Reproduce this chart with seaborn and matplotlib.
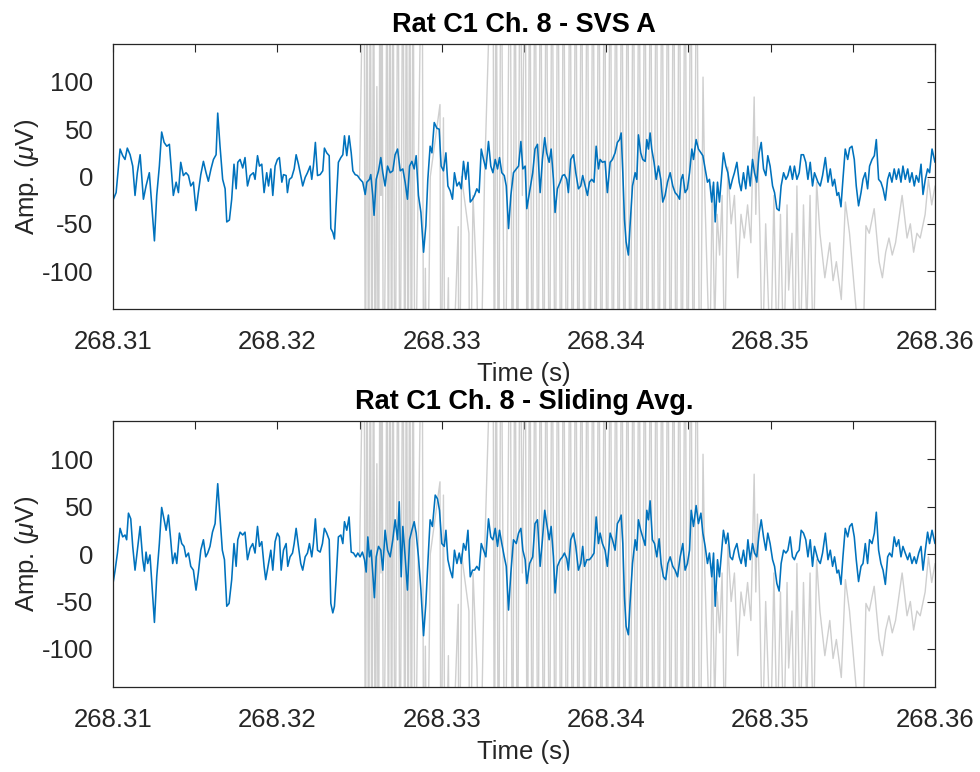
import numpy as np
import pandas as pd
import matplotlib
matplotlib.use("Agg")
import matplotlib.pyplot as plt
import seaborn as sns

T0 = 268.31  # s, left edge of the time window

# ---------------- Top panel (SVS A), blue trace: time in ms after T0, amplitude in uV
blue_top_ms = [0.0, 0.19, 0.43, 0.59, 0.73, 0.87, 1.04, 1.20, 1.34, 1.48, 1.65, 1.85, 2.01, 2.21, 2.36, 2.52, 2.66, 2.82, 2.96, 3.11,
               3.27, 3.43, 3.53, 3.67, 3.84, 3.98, 4.12, 4.28, 4.44, 4.59, 4.73, 4.89, 5.05, 5.19, 5.34, 5.50, 5.66, 5.80, 5.96, 6.11,
               6.27, 6.37, 6.51, 6.67, 6.82, 6.92, 7.08, 7.22, 7.36, 7.49, 7.59, 7.73, 7.89, 8.03, 8.18,
               8.34, 8.54, 8.64, 8.79, 8.91, 9.05, 9.19, 9.35, 9.46, 9.60, 9.72, 9.86, 10.00, 10.12, 10.27, 10.37, 10.53, 10.61, 10.73, 10.87,
               11.02, 11.14, 11.28, 11.42, 11.54, 11.69, 11.83, 11.99, 12.09, 12.19, 12.31, 12.44, 12.60, 12.76, 12.86, 13.00, 13.15, 13.25, 13.37, 13.47,
               13.57, 13.71, 13.86, 13.98, 14.08, 14.22, 14.36, 14.49, 14.59, 14.73, 14.87, 15.03, 15.19, 15.34, 15.44, 15.60, 15.68, 15.80, 15.88, 16.01,
               16.15, 16.29, 16.41, 16.55, 16.70,
               16.86, 17.02, 17.16, 17.31, 17.47, 17.63, 17.77, 17.91, 18.04, 18.18, 18.32, 18.44, 18.58, 18.73, 18.89, 19.03, 19.15, 19.29, 19.40, 19.54,
               19.70, 19.84, 19.96, 20.10, 20.25, 20.37, 20.51, 20.65, 20.77, 20.92, 21.06, 21.18, 21.32, 21.46, 21.59, 21.73, 21.87, 21.99, 22.13, 22.27,
               22.40, 22.54, 22.68, 22.84, 22.98, 23.11, 23.25, 23.39, 23.51, 23.65, 23.80, 23.92, 24.06, 24.20, 24.36, 24.53, 24.67, 24.81, 24.93, 25.07,
               25.17,
               25.53, 25.67, 25.82, 25.98, 26.12, 26.26, 26.38, 26.53, 26.65, 26.79, 26.89, 27.03, 27.20, 27.34, 27.46, 27.60, 27.70, 27.84, 28.01, 28.15,
               28.31, 28.45, 28.57, 28.72, 28.86, 28.98, 29.12, 29.26, 29.39, 29.53, 29.63, 29.77, 29.93, 30.07, 30.24, 30.38, 30.54, 30.68, 30.81, 30.91,
               31.01, 31.11, 31.21, 31.35, 31.45, 31.60, 31.76, 31.86, 31.96, 32.10, 32.22, 32.37, 32.47, 32.57, 32.67, 32.77, 32.91, 33.04, 33.18, 33.32,
               33.44, 33.58, 33.73,
               33.89, 34.05, 34.19, 34.34, 34.46, 34.56, 34.66, 34.80, 34.94, 35.07, 35.21, 35.31, 35.47, 35.61, 35.76, 35.88, 36.02, 36.16, 36.28, 36.42,
               36.53, 36.63, 36.77, 36.89, 37.03, 37.13, 37.28, 37.40, 37.54, 37.68, 37.80, 37.95, 38.09, 38.21, 38.35, 38.49, 38.62, 38.76, 38.90, 39.02,
               39.16, 39.30, 39.43, 39.57, 39.71, 39.83, 39.97, 40.12, 40.24, 40.38, 40.52, 40.64, 40.79, 40.93, 41.05, 41.19, 41.33, 41.45, 41.60, 41.74,
               41.86, 42.00, 42.14, 42.27, 42.41, 42.55, 42.67,
               42.88, 43.02, 43.16, 43.33, 43.49, 43.63, 43.77, 43.89, 44.04, 44.14, 44.28, 44.40, 44.54, 44.69, 44.81, 44.95, 45.09, 45.21, 45.35, 45.50,
               45.62, 45.76, 45.90, 46.02, 46.17, 46.31, 46.43, 46.57, 46.71, 46.84, 46.98, 47.12, 47.24, 47.38, 47.52, 47.65, 47.79, 47.93, 48.05, 48.19,
               48.34, 48.46, 48.60, 48.74, 48.86, 49.01, 49.15, 49.27, 49.41, 49.55, 49.67, 49.82, 50.0]
blue_top_uv = [-25, -17, 29, 22, 18, 30, 23, 11, -20, 4, 23, -24, -10, 4, -31, -68, -20, 11, 47, 36,
               32, 34, 11, -20, -6, -17, 15, 1, 4, 1, -10, -6, -36, -17, 2, 16, 4, -5, 8, 18,
               23, 67, 32, -3, -13, -48, -46, -24, 13, -13, 15, 18, 9, 20, -10,
               1, 4, -3, 22, 11, 13, -17, 4, -10, 8, -20, 11, 18, 20, -6, 2, 1, -17, -3, -1,
               8, 23, 13, 1, -10, -1, 4, 11, -3, 11, 36, 1, 2, 6, 30, 25, 22, -55, -59, -66,
               -31, 15, 20, 23, 43, 22, 43, 25, 6, 2, 1, -3, -6, -19, -6, -3, 2, -20, -41, -3,
               6, 20, 4, -10, 11,
               4, 6, 23, 29, 6, 8, -6, -24, 11, 16, 8, 22, -20, -38, -80, -52, -3, 32, 25, 57,
               51, 50, 11, 6, 25, -10, -15, -24, 4, -10, -6, -13, 16, -3, 15, -27, -24, -20, -13, -17,
               29, 18, 8, 37, 11, 4, 18, 8, 20, 4, 1, -10, -55, -20, 4, 8, 11, 37, 8, 11,
               -34,
               4, 29, 34, -17, 18, 41, 25, 15, 29, -3, -38, -13, -6, 1, 2, -3, -17, 18, 23, 4,
               -13, -10, 1, -10, -20, -6, -3, -6, 32, 8, 18, 15, 16, -17, 15, 18, 25, 36, 39, 46,
               4, -45, -69, -83, -52, -10, 4, -3, 44, 25, 18, 16, 39, 29, 46, 29, 15, -3, 11, -3,
               -27, -20, -6,
               4, -10, -17, -20, -24, -3, 2, -17, -13, 4, 29, 18, 39, 29, 25, 22, 8, -6, -3, -27,
               -6, -48, -6, -27, 4, 25, 11, 4, -13, -3, 4, 15, -6, -15, 4, -13, 11, -10, 18, 4,
               -6, 25, 36, 8, 1, 22, 11, -10, -17, -34, -36, -10, 4, -3, 1, 11, -3, 11, -3, 4,
               23, 23, 15, -3, 15, -10, 4,
               -6, -10, 1, 20, -6, 8, -10, -3, -20, -17, -32, -3, 29, 18, 30, 32, 18, -10, -31, -17,
               -3, 4, -13, 11, 18, 22, 39, -3, -6, -13, -25, -3, 4, -6, 8, -3, 8, -6, 11, -3,
               8, -6, 4, -10, 1, -6, 13, -19, -3, 8, 4, 29, 15]

# ---------------- Bottom panel (Sliding Avg.), blue trace
blue_bot_ms = [0.0, 0.12, 0.27, 0.43, 0.59, 0.73, 0.83, 0.94, 1.08, 1.20, 1.34, 1.48, 1.65, 1.81, 1.91, 2.01, 2.11, 2.25, 2.40, 2.52,
               2.66, 2.82, 2.96, 3.11, 3.23, 3.37, 3.51, 3.63, 3.77, 3.88, 4.04, 4.18, 4.32, 4.44, 4.59, 4.73, 4.89, 5.05, 5.19, 5.34,
               5.50, 5.64, 5.76, 5.90, 6.05, 6.21, 6.37, 6.51, 6.65, 6.78, 6.92, 7.06, 7.22, 7.36, 7.49, 7.59, 7.73, 7.89, 8.03, 8.18,
               8.34, 8.50, 8.64, 8.79, 8.91, 9.05, 9.19, 9.29, 9.46, 9.60, 9.72, 9.86, 10.00, 10.12, 10.23, 10.37, 10.53, 10.63, 10.77, 10.92,
               11.02, 11.14, 11.28, 11.42, 11.54, 11.69, 11.83, 11.95, 12.09, 12.19, 12.31, 12.44, 12.60, 12.74, 12.86, 13.00, 13.15, 13.25, 13.37, 13.47,
               13.57, 13.71, 13.86, 13.98, 14.08, 14.22, 14.36, 14.49, 14.63, 14.77, 14.89, 15.03, 15.17, 15.30, 15.40, 15.50, 15.60, 15.70, 15.80, 15.90,
               16.01, 16.15, 16.29, 16.41, 16.55, 16.70,
               16.86, 17.02, 17.16, 17.31, 17.41, 17.53, 17.63, 17.77, 17.91, 18.04, 18.18, 18.32, 18.44, 18.58, 18.73, 18.89, 19.03, 19.15, 19.29, 19.43,
               19.60, 19.74, 19.86, 20.00, 20.15, 20.25, 20.37, 20.51, 20.65, 20.77, 20.92, 21.06, 21.18, 21.32, 21.46, 21.59, 21.73, 21.87, 21.99, 22.13,
               22.27, 22.40, 22.54, 22.68, 22.84, 22.98, 23.11, 23.25, 23.39, 23.51, 23.65, 23.80, 23.92, 24.06, 24.20, 24.36, 24.53, 24.67, 24.81, 24.93,
               25.07, 25.17, 25.34,
               25.53, 25.67, 25.82, 25.98, 26.12, 26.26, 26.38, 26.53, 26.65, 26.79, 26.89, 27.03, 27.20, 27.34, 27.46, 27.60, 27.70, 27.84, 28.01, 28.15,
               28.31, 28.45, 28.57, 28.68, 28.82, 28.98, 29.12, 29.26, 29.39, 29.53, 29.63, 29.77, 29.93, 30.07, 30.24, 30.38, 30.54, 30.68, 30.81, 30.91,
               31.01, 31.11, 31.21, 31.35, 31.45, 31.60, 31.76, 31.86, 31.96, 32.10, 32.22, 32.37, 32.47, 32.57, 32.67, 32.81, 32.94, 33.08, 33.22, 33.34,
               33.48, 33.62, 33.75,
               33.89, 34.05, 34.19, 34.34, 34.50, 34.66, 34.80, 34.94, 35.07, 35.17, 35.31, 35.47, 35.61, 35.76, 35.88, 36.02, 36.16, 36.28, 36.42, 36.53,
               36.63, 36.77, 36.89, 37.03, 37.13, 37.28, 37.40, 37.54, 37.68, 37.80, 37.95, 38.09, 38.21, 38.35, 38.49, 38.62, 38.76, 38.90, 39.02, 39.16,
               39.30, 39.43, 39.57, 39.71, 39.83, 39.97, 40.12, 40.24, 40.38, 40.52, 40.64, 40.79, 40.93, 41.05, 41.19, 41.33, 41.45, 41.60, 41.74, 41.86,
               42.00, 42.14, 42.27, 42.41, 42.55, 42.67,
               42.88, 43.02, 43.16, 43.33, 43.49, 43.63, 43.77, 43.89, 44.04, 44.14, 44.28, 44.40, 44.54, 44.69, 44.81, 44.95, 45.09, 45.21, 45.35, 45.50,
               45.62, 45.76, 45.90, 46.02, 46.17, 46.31, 46.43, 46.57, 46.71, 46.84, 46.98, 47.12, 47.24, 47.38, 47.52, 47.65, 47.79, 47.93, 48.05, 48.19,
               48.34, 48.46, 48.60, 48.74, 48.86, 49.01, 49.15, 49.27, 49.41, 49.55, 49.67, 49.82, 50.0]
blue_bot_uv = [-31, -18, 1, 27, 18, 20, 15, 43, 37, 8, -17, 4, 29, -6, -18, 2, -10, -1, -41, -72,
               -24, 11, 49, 36, 25, 41, 15, -10, 1, -10, 22, 11, 8, -3, 1, -13, -17, -38, -20, 4,
               15, -3, 1, 8, 23, 32, 74, 39, 4, -6, -55, -52, -27, 11, -13, 15, 23, 20, 23, -6,
               6, 11, 1, 29, 8, 13, -13, -27, -10, 4, -17, 13, 22, 18, -17, 4, 11, -13, -3, 1,
               11, 27, 8, -10, -17, -3, 1, 11, -3, 11, 37, 4, 2, 11, 27, 22, 15, -52, -62, -55,
               -27, 18, 20, 11, 34, 25, 39, 2, 1, -3, 1, -3, 2, -6, -19, 18, -3, 4, -20, -46,
               -3, 8, 4, -17, 25, 4,
               -3, 15, 36, 15, 55, -24, 29, -3, -38, 15, 25, 34, 22, -3, -38, -86, -52, -10, 36, 29,
               62, 58, 46, 11, 8, 25, -6, -17, -25, 4, -10, 1, -10, 11, 4, 25, -24, -17, -17, -13,
               -17, 11, 4, -3, 37, 18, 15, 27, 8, 25, 11, -3, -13, -59, -20, 15, 11, 22, 27, 4,
               -6, -31, -10,
               -3, 32, 36, -13, 15, 46, 32, 15, 29, -3, -41, -13, -6, -3, 1, -5, -17, 15, 22, 8,
               -17, -10, 8, -13, -6, -6, -3, 1, 39, 11, 22, 11, 4, -13, 22, 15, 4, 32, 36, 41,
               11, -45, -76, -85, -52, -10, 15, 4, 36, 25, 18, 9, 46, 36, 56, 15, 11, -3, 16, -10,
               -24, -27, -10,
               -3, -13, -17, -24, -3, 11, -17, -10, 4, 46, 29, 51, 32, 43, 22, 8, -10, 1, -24, 1,
               -55, -6, -24, 4, 25, 11, 22, -3, -6, 4, 11, -3, -10, 4, -13, 15, -6, 11, 1, -3,
               22, 36, 18, 4, 22, 11, -6, -13, -31, -39, -10, 4, 1, 4, 18, -3, -6, 1, 4, 25,
               22, 15, -3, 15, -13, 8,
               -6, -10, 1, 22, -6, 4, -13, -3, -20, -17, -32, -3, 27, 18, 29, 32, 18, -6, -29, -13,
               -10, 11, -10, 15, 11, 22, 44, 4, -10, -17, -32, -3, 1, -3, 18, 8, 15, -3, 8, 1,
               -6, 1, -10, -3, -10, 1, 8, -17, 4, 23, 11, 25, 11]

# ---------------- Gray (raw, artifact-laden) trace, shared by both panels
gray_ms = [15.0, 15.27, 15.35, 15.45, 15.55, 15.65, 15.75, 15.85, 15.95, 16.05, 16.15, 16.24, 16.30, 16.36, 16.45, 16.60,
           16.67, 16.75, 16.85, 16.95, 17.03, 17.15, 17.34, 17.45, 17.64, 17.75, 17.85, 17.95, 18.05, 18.15, 18.25, 18.37,
           18.55, 18.80, 18.90, 19.0, 19.10, 19.3, 19.89, 19.95, 20.1, 20.2, 20.4, 20.5, 21.0, 21.05, 21.2, 21.65, 21.7,
           21.9, 22.14, 22.3, 22.6, 23.11, 23.2, 23.3, 23.45, 23.6, 23.84, 24.0, 24.15, 24.3, 24.45, 24.6, 24.76, 24.9,
           25.06, 25.2, 25.35, 25.5, 25.67,
           25.85, 26.0, 26.2, 26.35, 26.55, 26.7, 26.9, 27.05, 27.25, 27.4, 27.6, 27.8, 27.95, 28.15, 28.3, 28.5, 28.65,
           28.85, 29.0, 29.2, 29.35, 29.55, 29.7, 29.9, 30.05, 30.25, 30.4, 30.6, 30.75, 30.95, 31.1, 31.3, 31.45, 31.65,
           31.8, 32.0, 32.15, 32.35, 32.5, 32.7, 32.85, 33.05, 33.2, 33.4, 33.55, 33.75, 33.9, 34.1, 34.25, 34.45, 34.6,
           34.8, 34.95, 35.15, 35.3, 35.5, 35.7,
           35.89, 36.0, 36.3, 36.45, 36.6, 36.75, 36.9, 37.05, 37.2, 37.4, 37.6, 37.8, 38.0, 38.2, 38.4, 38.6, 38.8, 39.0,
           39.1, 39.2, 39.35, 39.5, 39.7, 40.0, 40.2, 40.4, 40.6, 40.8, 41.0, 41.1, 41.3, 41.45, 41.6, 41.8, 42.0, 42.2,
           42.4, 42.6, 42.8, 43.0, 43.3, 43.6, 43.8, 44.0, 44.3, 44.55, 44.8, 45.0, 45.3, 45.6, 45.8, 46.0, 46.3, 46.6,
           46.8, 47.0, 47.2, 47.4, 47.6, 48.0, 48.3, 48.5, 48.7, 48.9, 49.1, 49.4, 49.6, 49.8, 50.0]
gray_uv = [0, 300, -300, 300, -300, 300, -300, 300, -300, 95, -300, 300, -20, 300, -300, 0,
           300, -300, 300, -300, 300, -300, 300, -300, 300, -300, 300, -300, 300, -300, 300, -300,
           -20, 300, -300, -97, -300, 0, 76, -300, 62, -300, -107, -300, -53, -300, 0, -60, -300,
           -20, -121, -300, 0, 300, -300, 300, -300, 300, -300, 0, 300, -300, 300, -300, 300, -20,
           300, -300, 300, -300, 300,
           -300, 300, -300, 300, -300, 300, -300, 300, -300, 300, -300, 300, -300, 300, -300, 300, -300,
           300, -300, 300, -300, 300, -300, 300, -300, 300, -300, 300, -300, 300, -300, 300, -300, 300,
           -300, 300, -300, 300, -300, 300, -300, 300, -300, 300, -300, 300, -300, 300, -300, 300, -300,
           300, -300, 300, -300, 300, -300,
           105, -20, -200, -10, -160, -40, -83, -20, -200, 10, -50, -20, -107, -40, -65, -30, -70, 84,
           -40, 42, -60, -200, -50, -200, -20, -200, -40, -200, -30, -120, -60, -200, -10, -200, -30, -160,
           -20, -200, -6, -60, -107, -70, -110, -90, -130, -27, -60, -100, -160, -200, -52, -60, -34, -90,
           -107, -80, -65, -83, -70, -20, -65, -50, -80, -60, -65, -40, -3, -30, -10]

xtick_vals = [268.31, 268.32, 268.33, 268.34, 268.35, 268.36]
xtick_labels = ["268.31", "268.32", "268.33", "268.34", "268.35", "268.36"]
xminor_vals = [268.315, 268.325, 268.335, 268.345, 268.355]
ytick_vals = [-100, -50, 0, 50, 100]
titles = ["Rat C1 Ch. 8 - SVS A", "Rat C1 Ch. 8 - Sliding Avg."]

sns.set_theme(style="white")
plt.rcParams['font.family'] = ['Liberation Sans', 'DejaVu Sans']
plt.rcParams['mathtext.fontset'] = 'custom'
plt.rcParams['mathtext.rm'] = 'Liberation Sans'
plt.rcParams['mathtext.it'] = 'Liberation Sans:italic'

TXT = '#262626'
BLUE = '#0072BD'
GRAY = '#cfcfcf'

fig = plt.figure(figsize=(9.8, 7.72), dpi=100)
W, H = 980.0, 772.0
ax1 = fig.add_axes([113 / W, 1 - 309 / H, 822 / W, 265 / H])
ax2 = fig.add_axes([113 / W, 1 - 687 / H, 822 / W, 266 / H])

gray_df = pd.DataFrame({'t': T0 + np.array(gray_ms) / 1000.0, 'v': gray_uv})
blue_dfs = [pd.DataFrame({'t': T0 + np.array(blue_top_ms) / 1000.0, 'v': blue_top_uv}),
            pd.DataFrame({'t': T0 + np.array(blue_bot_ms) / 1000.0, 'v': blue_bot_uv})]

for ax, title, bdf in zip([ax1, ax2], titles, blue_dfs):
    sns.lineplot(data=gray_df, x='t', y='v', ax=ax, color=GRAY, lw=1.0, sort=False, estimator=None)
    sns.lineplot(data=bdf, x='t', y='v', ax=ax, color=BLUE, lw=1.15, sort=False, estimator=None)
    ax.set_xlim(268.31, 268.36)
    ax.set_ylim(-140, 140)
    ax.set_xticks(xtick_vals, labels=xtick_labels)
    ax.set_xticks(xminor_vals, minor=True)
    ax.set_yticks(ytick_vals, labels=[str(v) for v in ytick_vals])
    ax.tick_params(axis='both', which='both', direction='in', top=True, right=True,
                   length=6, width=0.8, color=TXT, labelcolor=TXT, labelsize=18.5)
    ax.tick_params(axis='x', which='major', pad=15)
    ax.tick_params(axis='y', which='major', pad=14)
    for s in ax.spines.values():
        s.set_color(TXT)
        s.set_linewidth(0.9)
        s.set_visible(True)
    ax.set_title(title, fontweight='bold', fontsize=19.5, color='black', pad=9)
    ax.set_xlabel('Time (s)', fontsize=18.5, color=TXT, labelpad=6)
    ax.set_ylabel(r'Amp. ($\mu$V)', fontsize=18.5, color=TXT, labelpad=1)

fig.savefig('out.png', dpi=100)
